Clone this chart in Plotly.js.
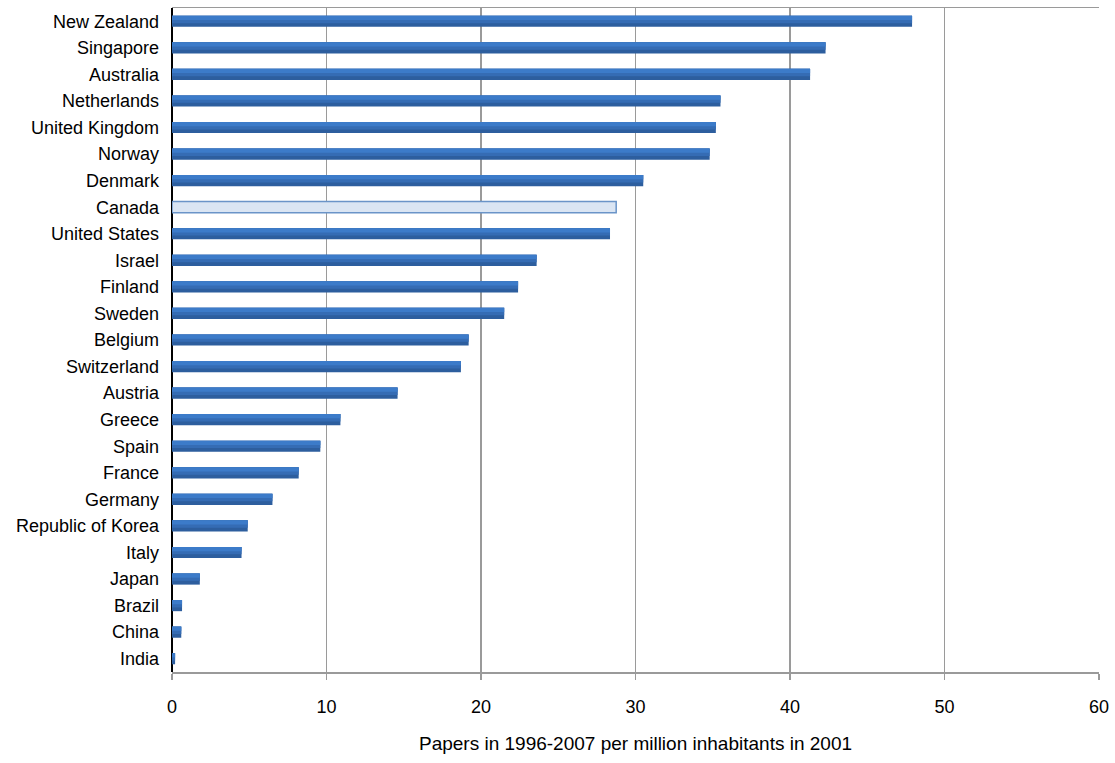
<!DOCTYPE html>
<html><head><meta charset="utf-8">
<script src="https://cdn.plot.ly/plotly-3.0.1.min.js"></script>
<style>html,body{margin:0;padding:0;background:#fff}#chart{width:1115px;height:763px}</style>
</head><body><div id="chart"></div>
<script>
const countries = ["New Zealand","Singapore","Australia","Netherlands","United Kingdom","Norway","Denmark","Canada","United States","Israel","Finland","Sweden","Belgium","Switzerland","Austria","Greece","Spain","France","Germany","Republic of Korea","Italy","Japan","Brazil","China","India"];
const papers = [47.9,42.3,41.3,35.5,35.2,34.8,30.5,28.75,28.35,23.6,22.4,21.5,19.2,18.7,14.6,10.9,9.6,8.2,6.5,4.9,4.5,1.8,0.65,0.6,0.2];
const highlight = "Canada";

const font = "Liberation Sans Narrow, Arial Narrow, Liberation Sans, sans-serif";
const isHi = countries.map(c => c === highlight);
const darkCol = countries.map((c,i) => isHi[i] ? "#dae5f3" : "#2d5e9e");
const midCol = countries.map((c,i) => isHi[i] ? "rgba(0,0,0,0)" : "#356cb4");
const lightCol = countries.map((c,i) => isHi[i] ? "rgba(0,0,0,0)" : "#3c7bc9");
const lineCol = countries.map((c,i) => isHi[i] ? "#6a94c8" : "rgba(0,0,0,0)");
const lineW = countries.map((c,i) => isHi[i] ? 1.5 : 0);

const traces = [
  {type:"bar", orientation:"h", y:countries, x:papers, width:0.42,
   marker:{color:darkCol, line:{color:lineCol, width:lineW}}, hoverinfo:"x+y"},
  {type:"bar", orientation:"h", y:countries, x:papers, width:0.28, offset:-0.21,
   marker:{color:midCol, line:{width:0}}, hoverinfo:"skip"},
  {type:"bar", orientation:"h", y:countries, x:papers, width:0.16, offset:-0.21,
   marker:{color:lightCol, line:{width:0}}, hoverinfo:"skip"}
];

const layout = {
  width:1115, height:763,
  margin:{l:172, r:16, t:8, b:91},
  paper_bgcolor:"#fff", plot_bgcolor:"#fff",
  barmode:"overlay", showlegend:false,
  font:{family:font, size:18, color:"#000"},
  xaxis:{range:[0,60], dtick:10, tick0:0, showgrid:true, gridcolor:"#9a9a9a", gridwidth:1.5,
    showline:true, linecolor:"#9a9a9a", linewidth:1.5, mirror:true,
    ticks:"outside", ticklen:6, tickcolor:"#9a9a9a", tickwidth:1.5,
    zeroline:true, zerolinecolor:"#000", zerolinewidth:2,
    ticklabelstandoff:12,
    tickfont:{family:font, size:18, color:"#000"},
    title:{text:"Papers in 1996-2007 per million inhabitants in 2001", font:{family:font, size:19, color:"#000"}, standoff:20},
    fixedrange:true},
  yaxis:{type:"category", autorange:"reversed", showgrid:false, showline:false, zeroline:false,
    ticks:"", ticklabelstandoff:12, tickfont:{family:font, size:18, color:"#000"}, fixedrange:true}
};
Plotly.newPlot("chart", traces, layout, {displayModeBar:false, staticPlot:true});
</script></body></html>
